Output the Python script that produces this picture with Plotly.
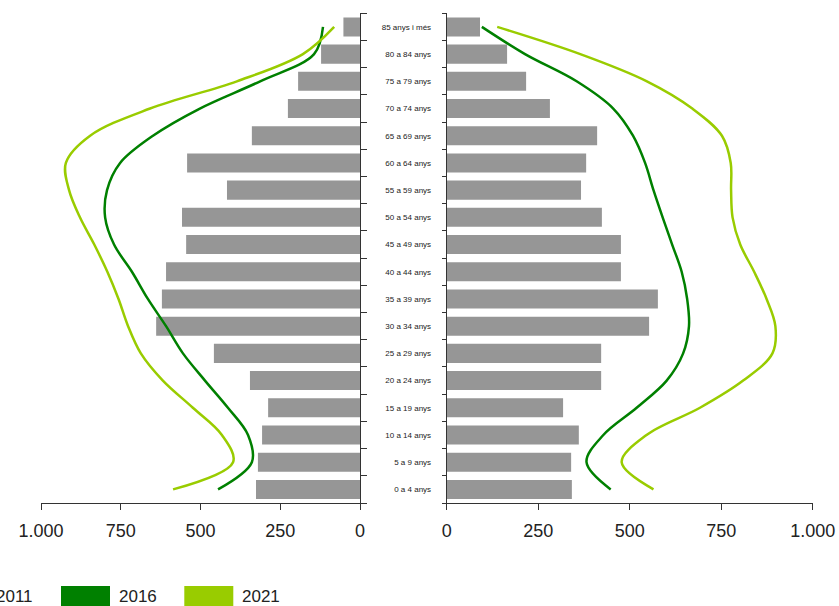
import plotly.graph_objects as go

ages = ["0 a 4 anys", "5 a 9 anys", "10 a 14 anys", "15 a 19 anys", "20 a 24 anys",
        "25 a 29 anys", "30 a 34 anys", "35 a 39 anys", "40 a 44 anys", "45 a 49 anys",
        "50 a 54 anys", "55 a 59 anys", "60 a 64 anys", "65 a 69 anys", "70 a 74 anys",
        "75 a 79 anys", "80 a 84 anys", "85 anys i més"]

left_2011 = [326, 320, 307, 288, 345, 458, 639, 621, 608, 545, 558, 417, 542, 339, 226, 194, 122, 52]
right_2011 = [342, 340, 361, 318, 422, 422, 553, 577, 476, 476, 424, 367, 381, 411, 282, 217, 165, 91]

left_2016 = [445, 339, 351, 414, 486, 555, 608, 665, 715, 771, 799, 793, 752, 649, 502, 313, 144, 116]
left_2021 = [586, 398, 433, 524, 618, 687, 727, 757, 792, 833, 878, 912, 922, 846, 658, 386, 179, 81]
right_2016 = [448, 382, 428, 519, 601, 646, 662, 657, 642, 616, 590, 565, 542, 509, 455, 355, 214, 96]
right_2021 = [565, 478, 546, 692, 810, 890, 898, 874, 840, 802, 781, 777, 776, 752, 671, 547, 365, 138]

x_tickvals = [0, 250, 500, 750, 1000]
x_ticktext = ["0", "250", "500", "750", "1.000"]

legend_years = ["2011", "2016", "2021"]
legend_colors = ["#969696", "#008000", "#99cc00"]

BAR = "#969696"
C16 = "#008000"
C21 = "#99cc00"
FONT = "Liberation Sans, Arial, sans-serif"
W, H = 839, 606

fig = go.Figure()

fig.add_trace(go.Bar(y=ages, x=left_2011, orientation="h", marker_color=BAR,
                     marker_line_width=0, width=0.7, xaxis="x", yaxis="y"))
fig.add_trace(go.Bar(y=ages, x=right_2011, orientation="h", marker_color=BAR,
                     marker_line_width=0, width=0.7, xaxis="x2", yaxis="y2"))

for vals, col, xa, ya in [(left_2016, C16, "x", "y"), (left_2021, C21, "x", "y"),
                          (right_2016, C16, "x2", "y2"), (right_2021, C21, "x2", "y2")]:
    fig.add_trace(go.Scatter(y=ages, x=vals, mode="lines",
                             line=dict(color=col, width=2.5, shape="spline", smoothing=1.0),
                             xaxis=xa, yaxis=ya))

ydom = [(H - 503) / H, (H - 13.3) / H]
axis_common = dict(showgrid=False, zeroline=False, showline=True, linecolor="#333333",
                   linewidth=1, ticks="outside", tickcolor="#333333", automargin=False)

fig.update_layout(
    width=W, height=H,
    margin=dict(l=0, r=0, t=0, b=0, pad=0),
    paper_bgcolor="white", plot_bgcolor="white",
    showlegend=False,
    font=dict(family=FONT, color="#222222"),
    xaxis=dict(domain=[41 / W, 360 / W], range=[1000, 0], anchor="y",
               tickvals=x_tickvals, ticktext=x_ticktext, ticklen=6, ticklabelstandoff=5,
               tickfont=dict(size=18, family=FONT, color="#222222"), **axis_common),
    yaxis=dict(domain=ydom, type="category", categoryorder="array", categoryarray=ages,
               range=[-0.5, 17.5], anchor="x", side="right", showticklabels=False,
               tickson="boundaries", ticklen=6, **axis_common),
    xaxis2=dict(domain=[446.7 / W, 812.7 / W], range=[0, 1000], anchor="y2",
                tickvals=x_tickvals, ticktext=x_ticktext, ticklen=6, ticklabelstandoff=5,
                tickfont=dict(size=18, family=FONT, color="#222222"), **axis_common),
    yaxis2=dict(domain=ydom, type="category", categoryorder="array", categoryarray=ages,
                range=[-0.5, 17.5], anchor="x2", side="left", showticklabels=True,
                tickson="boundaries", ticklen=4, ticklabelstandoff=13,
                tickfont=dict(size=8, family=FONT, color="#222222"), **axis_common),
)

# custom legend (wide swatches), partially off-canvas as in the reference
swatch_x0 = [-62, 61, 184.3]
for yr, col, sx in zip(legend_years, legend_colors, swatch_x0):
    fig.add_shape(type="rect", xref="paper", yref="paper",
                  x0=sx / W, x1=(sx + 49) / W, y0=(H - 586) / H, y1=(H - 608) / H,
                  fillcolor=col, line_width=0)
    fig.add_annotation(text=yr, xref="paper", yref="paper", x=(sx + 56) / W,
                       y=(H - 596.5) / H, xanchor="left", yanchor="middle",
                       showarrow=False, font=dict(size=17, family=FONT, color="#222222"))

fig.write_html("out.html", config={"displayModeBar": False},
               post_script="document.body.style.margin='0';document.body.style.overflow='hidden';")
